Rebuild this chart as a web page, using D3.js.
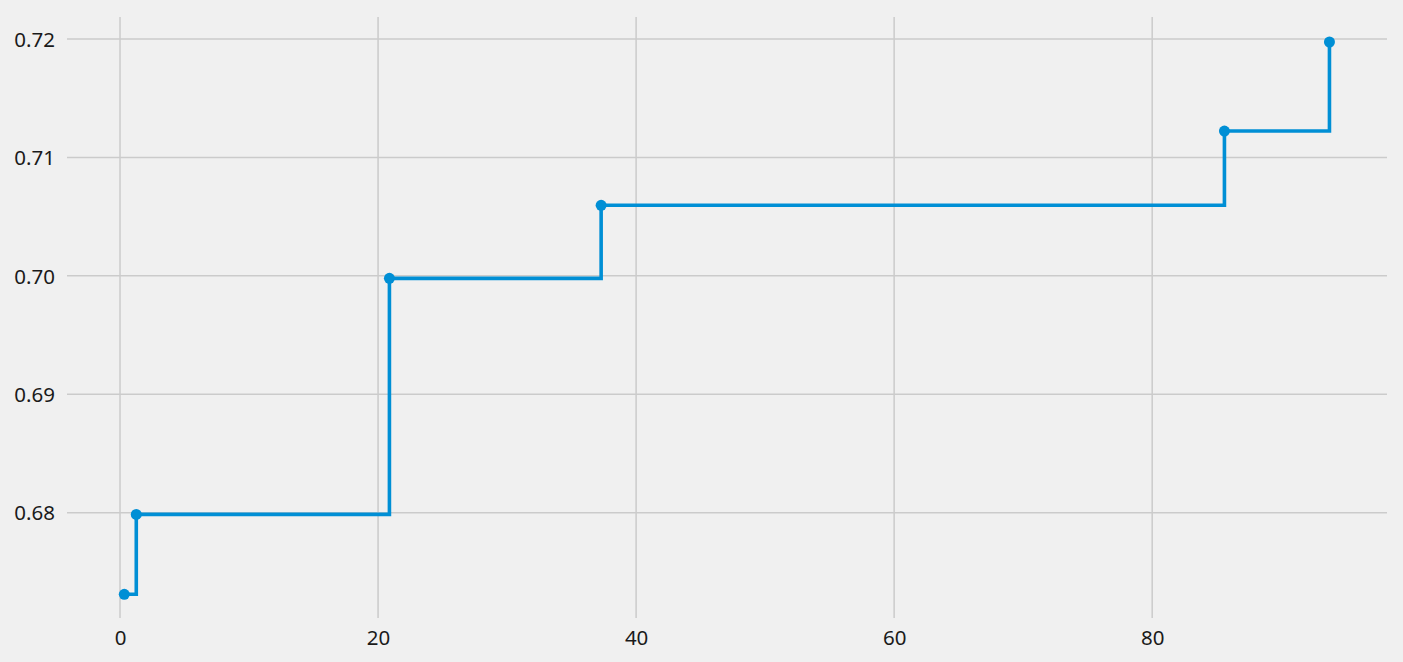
<!DOCTYPE html>
<html>
<head>
<meta charset="utf-8">
<script src="https://cdn.jsdelivr.net/npm/d3@7"></script>
<style>
  html, body { margin: 0; padding: 0; background: #f0f0f0; }
  svg { display: block; }
</style>
</head>
<body>
<svg id="chart" width="1403" height="662"></svg>
<script>
const xValues = [0.33, 1.26, 20.88, 37.29, 85.6, 93.74];
const yValues = [0.67311, 0.67986, 0.69979, 0.70596, 0.71223, 0.71975];
const xTicks = [0, 20, 40, 60, 80];
const yTicks = [0.68, 0.69, 0.70, 0.71, 0.72];
const yTickLabels = ["0.68", "0.69", "0.70", "0.71", "0.72"];

const W = 1403, H = 662;
const margin = { left: 67, right: 16, top: 17, bottom: 44 };
const svg = d3.select("#chart");
svg.append("rect").attr("width", W).attr("height", H).attr("fill", "#f0f0f0");

const x = d3.scaleLinear().domain([-4.11, 98.2]).range([margin.left, W - margin.right]);
const y = d3.scaleLinear().domain([0.67111, 0.72186]).range([H - margin.bottom, margin.top]);

const g = svg.append("g");

// grid
g.selectAll(".vg").data(xTicks).enter().append("line")
  .attr("x1", d => x(d)).attr("x2", d => x(d))
  .attr("y1", margin.top).attr("y2", H - margin.bottom)
  .attr("stroke", "#cbcbcb").attr("stroke-width", 1.5);
g.selectAll(".hg").data(yTicks).enter().append("line")
  .attr("x1", margin.left).attr("x2", W - margin.right)
  .attr("y1", d => y(d)).attr("y2", d => y(d))
  .attr("stroke", "#cbcbcb").attr("stroke-width", 1.5);

// axes (labels only)
const font = "'Noto Sans', 'Open Sans', sans-serif";
const xAxis = d3.axisBottom(x).tickValues(xTicks).tickSize(0).tickPadding(0).tickFormat(d3.format("d"));
const xa = svg.append("g").attr("transform", `translate(0,${H - margin.bottom})`).call(xAxis);
xa.select(".domain").remove();
xa.selectAll("text").attr("dy", null).attr("y", 27)
  .attr("font-family", font).attr("font-size", 20.5).attr("fill", "#1a1a1a");

const yAxis = d3.axisLeft(y).tickValues(yTicks).tickSize(0).tickPadding(0).tickFormat((d, i) => yTickLabels[i]);
const ya = svg.append("g").attr("transform", `translate(${margin.left},0)`).call(yAxis);
ya.select(".domain").remove();
ya.selectAll("text").attr("x", -12).attr("dy", "0.35em")
  .attr("font-family", font).attr("font-size", 20.5).attr("fill", "#1a1a1a");

// step line
const data = xValues.map((v, i) => [v, yValues[i]]);
const line = d3.line().x(d => x(d[0])).y(d => y(d[1])).curve(d3.curveStepAfter);
g.append("path").datum(data).attr("d", line)
  .attr("fill", "none").attr("stroke", "#008fd5").attr("stroke-width", 3.6);

g.selectAll(".pt").data(data).enter().append("circle")
  .attr("cx", d => x(d[0])).attr("cy", d => y(d[1])).attr("r", 5.5)
  .attr("fill", "#008fd5");
</script>
</body>
</html>
